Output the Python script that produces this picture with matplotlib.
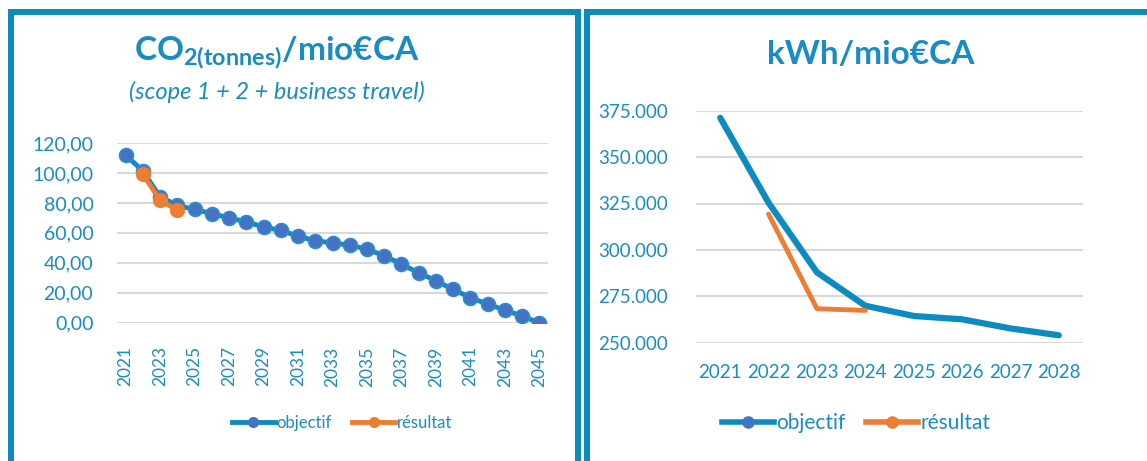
import matplotlib
matplotlib.use("Agg")
import matplotlib.pyplot as plt
from matplotlib.lines import Line2D
from matplotlib.patches import Rectangle

# CO2 chart data (tonnes / mio€ CA)
co2_years = list(range(2021, 2046))
co2_objectif = [112, 101.3, 84, 78.4, 75.6, 72.9, 70, 67.3, 64, 61.6, 57.8, 54.7,
                53.3, 51.8, 49.1, 44.7, 39.1, 33.3, 28, 22.2, 16.7, 12.4, 8.4, 4.4, 0]
co2_res_years = [2022, 2023, 2024]
co2_resultat = [99.1, 81.8, 75.1]

# energy chart data (kWh / mio€ CA)
kwh_years = list(range(2021, 2029))
kwh_objectif = [371.2, 325.4, 287.9, 269.9, 264.4, 262.6, 257.7, 254.0]
kwh_res_years = [2022, 2023, 2024]
kwh_resultat = [319.3, 268.3, 267.4]

BLUE_LINE = "#0B8BC0"
BLUE_MARK = "#4472C4"
ORANGE = "#ED7D31"
TXT = "#1A8CC4"
GRID = "#D9D9D9"

plt.rcParams["font.family"] = ["Lato", "DejaVu Sans"]
plt.rcParams["mathtext.fontset"] = "custom"
plt.rcParams["mathtext.rm"] = "Lato"
plt.rcParams["mathtext.bf"] = "Lato:bold"

W, H = 1147, 461
fig = plt.figure(figsize=(W / 100, H / 100), dpi=100)


def fx(px):
    return px / W


def fy(py):
    return 1 - py / H


# panel borders
for x0, x1 in [(11, 578), (587, 1160)]:
    fig.patches.append(Rectangle((fx(x0), fy(470)), fx(x1 - x0), fy(12) - fy(470),
                                 transform=fig.transFigure, fill=False,
                                 edgecolor="#0A8ABD", lw=4.3, clip_on=False))

# ---- left chart ----
ax1 = fig.add_axes([fx(117), fy(322.7), fx(548 - 117), fy(143) - fy(322.7)])
ax1.plot(co2_years, co2_objectif, color=BLUE_LINE, lw=3.5, marker="o", ms=10,
         mfc=BLUE_MARK, mec="#2F8CCB", mew=1.2, zorder=3)
ax1.plot(co2_res_years, co2_resultat, color=ORANGE, lw=3.5, marker="o", ms=10,
         mfc=ORANGE, mec=ORANGE, zorder=4)
ax1.set_xlim(2020.5, 2045.5)
ax1.set_ylim(0, 120)
ax1.set_yticks(range(0, 121, 20))
ax1.set_yticklabels([f"{v},00" for v in range(0, 121, 20)])
ax1.set_xticks(co2_years[::2])
ax1.set_xticklabels([str(y) for y in co2_years[::2]], rotation=90)
ax1.tick_params(axis="y", length=0, pad=17, labelsize=14, labelcolor=TXT)
ax1.tick_params(axis="x", length=0, pad=17, labelsize=12.5, labelcolor=TXT)
ax1.grid(axis="y", color=GRID, lw=1.5)
ax1.set_axisbelow(True)
for s in ax1.spines.values():
    s.set_visible(False)

fig.text(fx(277), fy(53), r"$\mathbf{CO_{2(tonnes)}/mio€CA}$", color=TXT,
         fontsize=24, ha="center", va="center")
fig.text(fx(277), fy(92), "(scope 1 + 2 + business travel)", color=TXT,
         fontsize=17, style="italic", ha="center", va="center")

h1 = [Line2D([], [], color=BLUE_LINE, lw=3.5, marker="o", ms=7, mfc=BLUE_MARK, mec=BLUE_MARK),
      Line2D([], [], color=ORANGE, lw=3.5, marker="o", ms=7, mfc=ORANGE, mec=ORANGE)]
fig.legend(h1, ["objectif", "résultat"], loc="center", bbox_to_anchor=(fx(342), fy(423)),
           ncol=2, frameon=False, fontsize=12, labelcolor=TXT, handlelength=2.6,
           handletextpad=0.1, columnspacing=1.2)

# ---- right chart ----
ax2 = fig.add_axes([fx(696), fy(342.7), fx(1083 - 696), fy(110.7) - fy(342.7)])
ax2.plot(kwh_years, [v * 1000 for v in kwh_objectif], color=BLUE_LINE, lw=4.5,
         solid_capstyle="round", zorder=3)
ax2.plot(kwh_res_years, [v * 1000 for v in kwh_resultat], color=ORANGE, lw=3.5,
         solid_capstyle="round", zorder=4)
ax2.set_xlim(2020.5, 2028.5)
ax2.set_ylim(250000, 375000)
yt = list(range(250000, 375001, 25000))
ax2.set_yticks(yt)
ax2.set_yticklabels([f"{v // 1000}.000" for v in yt])
ax2.set_xticks(kwh_years)
ax2.tick_params(axis="y", length=0, pad=20, labelsize=13.5, labelcolor=TXT)
ax2.tick_params(axis="x", length=0, pad=15, labelsize=13.5, labelcolor=TXT)
ax2.grid(axis="y", color=GRID, lw=1.5)
ax2.set_axisbelow(True)
for s in ax2.spines.values():
    s.set_visible(False)

fig.text(fx(871), fy(55), "kWh/mio€CA", color=TXT, fontsize=24, fontweight="bold",
         ha="center", va="center")

h2 = [Line2D([], [], color=BLUE_LINE, lw=4, marker="o", ms=8, mfc=BLUE_MARK, mec=BLUE_MARK),
      Line2D([], [], color=ORANGE, lw=4, marker="o", ms=8, mfc=ORANGE, mec=ORANGE)]
fig.legend(h2, ["objectif", "résultat"], loc="center", bbox_to_anchor=(fx(856), fy(423)),
           ncol=2, frameon=False, fontsize=15, labelcolor=TXT, handlelength=2.5,
           handletextpad=0.1, columnspacing=1.0)

fig.savefig("out.png", dpi=100)
